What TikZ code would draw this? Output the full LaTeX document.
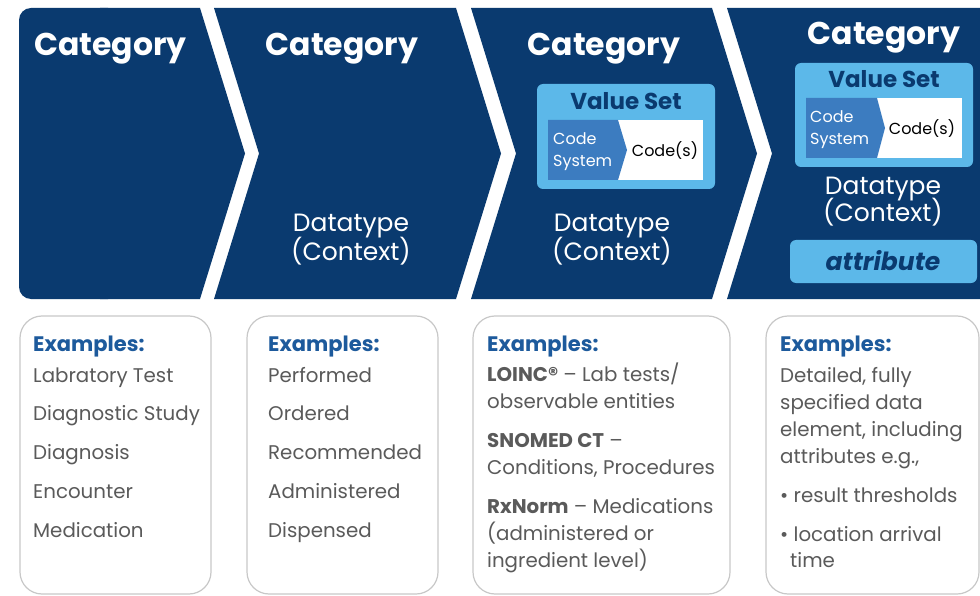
\documentclass[tikz,border=0pt]{standalone}
\usepackage{fontspec}
\setmainfont{Poppins}
\definecolor{navy}{HTML}{0A3A6F}
\definecolor{lblue}{HTML}{5CB8E9}
\definecolor{csblue}{HTML}{3C7CC0}
\definecolor{exblue}{HTML}{1D5A9C}
\definecolor{gtext}{HTML}{5A5A5A}
\definecolor{gborder}{HTML}{C8C8C8}
\newcommand\myfs[1]{\fontsize{#1}{#1}\selectfont}
\begin{document}
\begin{tikzpicture}[x=1pt,y=-1pt,
  txt/.style={inner sep=0pt,anchor=base},
  txtw/.style={inner sep=0pt,anchor=base west},
  cat/.style={txt,text=white,font=\myfs{31.5}\bfseries},
  dtype/.style={txt,text=white,font=\myfs{25}},
  vs/.style={txt,text=navy,font=\myfs{23}\bfseries},
  cs/.style={txtw,text=white,font=\myfs{16}},
  codes/.style={txt,text=black,font=\myfs{16}},
  exh/.style={txtw,text=exblue,font=\myfs{21}\bfseries},
  exi/.style={txtw,text=gtext,font=\myfs{19.8}},
  exbox/.style={draw=gborder,line width=1.2pt,fill=white,rounded corners=22pt}]
\useasboundingbox (0,0) rectangle (980,596);
\fill[white] (0,0) rectangle (980,596);
% top chevrons
\fill[navy,rounded corners=12pt] (19,8) rectangle (120,299);
\fill[navy] (100,8) -- (200,8) -- (245,153.5) -- (200,299) -- (100,299) -- cycle;
\fill[navy] (214,8) -- (456,8) -- (501,153.5) -- (456,299) -- (214,299) -- (259,153.5) -- cycle;
\fill[navy] (471,8) -- (712,8) -- (757,153.5) -- (712,299) -- (471,299) -- (516,153.5) -- cycle;
\fill[navy] (727,8) -- (980,8) -- (980,299) -- (727,299) -- (772,153.5) -- cycle;
% titles
\node[txtw,text=white,font=\myfs{31.5}\bfseries] (c1) at (34,56) {Category};
\node[cat] (c2) at (342,56) {Category};
\node[cat] (c3) at (604,56) {Category};
\node[cat] (c4) at (884,45) {Category};
% panel 2
\node[dtype] (d2a) at (351,232) {Datatype};
\node[dtype] (d2b) at (351,261) {(Context)};
% panel 3
\fill[lblue,rounded corners=6pt] (537,84) rectangle (715,189);
\fill[white] (548,120) rectangle (703,180);
\fill[csblue] (548,120) -- (618,120) -- (627,150) -- (618,180) -- (548,180) -- cycle;
\node[vs] (v3) at (626,110) {Value Set};
\node[cs] (cs3a) at (553,145) {Code};
\node[cs] (cs3b) at (553,167) {System};
\node[codes] (cd3) at (665,157) {Code(s)};
\node[dtype] (d3a) at (612,232) {Datatype};
\node[dtype] (d3b) at (612,260) {(Context)};
% panel 4
\fill[lblue,rounded corners=6pt] (795,63) rectangle (973,167);
\fill[white] (806,98) rectangle (962,158);
\fill[csblue] (806,98) -- (877,98) -- (885,128) -- (877,158) -- (806,158) -- cycle;
\node[vs] (v4) at (884,88) {Value Set};
\node[cs] (cs4a) at (810,123) {Code};
\node[cs] (cs4b) at (810,145) {System};
\node[codes] (cd4) at (922,135) {Code(s)};
\node[dtype] (d4a) at (883,195) {Datatype};
\node[dtype] (d4b) at (883,222) {(Context)};
\fill[lblue,rounded corners=6pt] (790,240) rectangle (977,283);
\node[txt,text=navy,font=\myfs{25}\bfseries\itshape] (at4) at (883,270) {attribute};
% example boxes
\draw[exbox] (20,316) rectangle (211,594);
\draw[exbox] (247,316) rectangle (438,594);
\draw[exbox] (473,316) rectangle (730,594);
\draw[exbox] (766,316) rectangle (979,594);
% box 1
\node[exh] (e1) at (33,351) {Examples:};
\node[exi] (e1a) at (33,382) {Labratory Test};
\node[exi] (e1b) at (33,420) {Diagnostic Study};
\node[exi] (e1c) at (33,459) {Diagnosis};
\node[exi] (e1d) at (33,498) {Encounter};
\node[exi] (e1e) at (33,537) {Medication};
% box 2
\node[exh] (e2) at (268,351) {Examples:};
\node[exi] (e2a) at (268,382) {Performed};
\node[exi] (e2b) at (268,420) {Ordered};
\node[exi] (e2c) at (268,459) {Recommended};
\node[exi] (e2d) at (268,498) {Administered};
\node[exi] (e2e) at (268,537) {Dispensed};
% box 3
\node[exh] (e3) at (487,351) {Examples:};
\node[exi] (e3a) at (487,381) {\textbf{LOINC®} – Lab tests/};
\node[exi] (e3b) at (487,408) {observable entities};
\node[exi] (e3c) at (487,447) {\textbf{SNOMED CT} –};
\node[exi] (e3d) at (487,474) {Conditions, Procedures};
\node[exi] (e3e) at (487,513) {\textbf{RxNorm} – Medications};
\node[exi] (e3f) at (487,540) {(administered or};
\node[exi] (e3g) at (487,567) {ingredient level)};
% box 4
\node[exh] (e4) at (780,351) {Examples:};
\node[exi] (e4a) at (780,382) {Detailed, fully};
\node[exi] (e4b) at (780,409) {specified data};
\node[exi] (e4c) at (780,436) {element, including};
\node[exi] (e4d) at (780,463) {attributes e.g.,};
\node[exi] (e4e) at (780,502) {• result thresholds};
\node[exi] (e4f) at (780,541) {• location arrival};
\node[exi] (e4g) at (790,567) {time};
\end{tikzpicture}
\end{document}
